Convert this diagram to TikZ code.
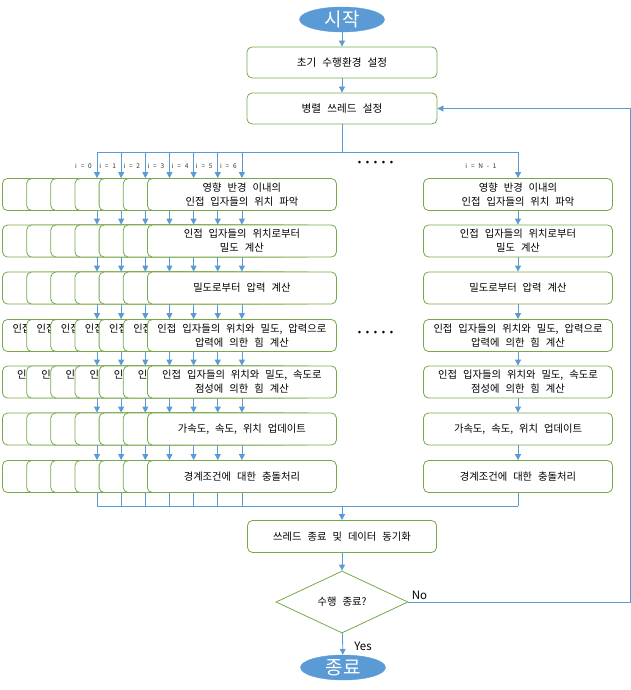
\documentclass[tikz,border=0pt]{standalone}
\usepackage{fontspec}
\setmainfont{Noto Sans CJK KR}[WordSpace=2.6]
\usetikzlibrary{arrows.meta,shapes.geometric}
\definecolor{lnblue}{HTML}{5B9BD5}
\definecolor{bxgreen}{HTML}{77A94A}
\begin{document}
\begin{tikzpicture}[x=1pt,y=-1pt,
 proc/.style={draw=bxgreen, line width=0.8pt, fill=white, rounded corners=5pt,
   minimum width=189pt, minimum height=32pt, inner sep=1pt, align=center,
   font=\fontsize{10.3}{14}\selectfont},
 bigproc/.style={proc, minimum width=190pt, minimum height=31pt, font=\fontsize{10.6}{14}\selectfont},
 term/.style={ellipse, fill=lnblue, draw=lnblue, minimum width=85pt, minimum height=25pt,
   inner sep=0pt, text=white, font=\fontsize{19}{20}\selectfont},
 decide/.style={diamond, draw=bxgreen, line width=0.8pt, fill=white, aspect=2.13,
   minimum width=132pt, minimum height=62pt, inner sep=0pt, font=\fontsize{10.3}{12}\selectfont},
 flow/.style={draw=lnblue, line width=0.8pt},
 arr/.style={flow, -{Triangle[length=6pt,width=6pt]}},
 ilab/.style={font=\fontsize{6.5}{7}\selectfont, text=black!80, inner sep=0pt},
 note/.style={font=\fontsize{11.5}{12}\selectfont, inner sep=0pt},
 dots/.style={font=\fontsize{10}{10}\selectfont, inner sep=0pt},
]
\useasboundingbox (0,0) rectangle (631,690);

\node[term] (start) at (342,19.5) {시작};
\node[bigproc] (init) at (342,62.5) {초기 수행환경 설정};
\node[bigproc] (par) at (342,108.5) {병렬 쓰레드 설정};
\draw[arr] (start) -- (init);
\draw[arr] (init) -- (par);

\foreach \r/\yy/\t/\bt in {
 1/194.5/{영향 반경 이내의\\인접 입자들의 위치 파악}/{},
 2/241/{인접 입자들의 위치로부터\\밀도 계산}/{},
 3/288/{밀도로부터 압력 계산}/{},
 4/335.5/{인접 입자들의 위치와 밀도, 압력으로\\압력에 의한 힘 계산}/{인접\phantom{ 입자들의 위치와 밀도, 압력으로}\\\phantom{압력에 의한 힘 계산}},
 5/382/{인접 입자들의 위치와 밀도, 속도로\\점성에 의한 힘 계산}/{인접\phantom{ 입자들의 위치와 밀도, 속도로}\\\phantom{점성에 의한 힘 계산}},
 6/429/{가속도, 속도, 위치 업데이트}/{},
 7/476.5/{경계조건에 대한 충돌처리}/{}}{
  \foreach \k in {0,...,5}{
    \node[proc] (r\r c\k) at ({97+24.15*\k},\yy) {\bt};
  }
  \node[proc] (r\r c6) at ({97+24.15*6},\yy) {\t};
  \node[proc] (r\r n) at (518,\yy) {\t};
}

\foreach \r in {1,...,6}{
  \pgfmathtruncatemacro{\s}{\r+1}
  \foreach \k in {0,...,6}{
    \draw[arr] (r\r c\k) -- (r\s c\k);
  }
  \draw[arr] (r\r n) -- (r\s n);
}

% distribution
\coordinate (tl) at (97,152);
\coordinate (tr) at (518,152);
\coordinate (tm) at (342,152);
\draw[flow] (par) -- (tm);
\draw[flow] (tl) -- (tr);
\foreach \k in {0,...,6}{
  \draw[arr] (r1c\k |- tl) -- (r1c\k);
  \node[ilab, anchor=east] (lab\k) at ({97+24.15*\k-5},166) {i = \k};
}
\draw[arr] (tr) -- (r1n);
\node[ilab] (labN) at (481,166) {i = N - 1};
\node[dots] (dots1) at (375.5,163) {•\hspace{4.6pt}•\hspace{4.6pt}•\hspace{4.6pt}•\hspace{4.6pt}•};
\node[dots] (dots2) at (375.5,333) {•\hspace{4.6pt}•\hspace{4.6pt}•\hspace{4.6pt}•\hspace{4.6pt}•};

% gathering
\coordinate (bl) at (97,506);
\coordinate (br) at (518,506);
\coordinate (bm) at (342,506);
\foreach \k in {0,...,6}{
  \draw[flow] (r7c\k) -- (r7c\k |- bl);
}
\draw[flow] (r7n) -- (br);
\draw[flow] (bl) -- (br);

\node[proc] (sync) at (342,536.5) {쓰레드 종료 및 데이터 동기화};
\draw[arr] (bm) -- (sync);

\node[decide] (dec) at (342,602) {수행 종료?};
\draw[arr] (sync) -- (dec);

\node[term] (stop) at (343,667.5) {종료};
\draw[arr] (dec) -- (stop);
\node[note] (yes) at (363,646) {Yes};

\coordinate (loopx) at (630,0);
\draw[arr] (dec.east) -- (dec.east -| loopx) -- (par.east -| loopx) -- (par.east);
\node[note] (no) at (419.5,595) {No};
\end{tikzpicture}
\end{document}
